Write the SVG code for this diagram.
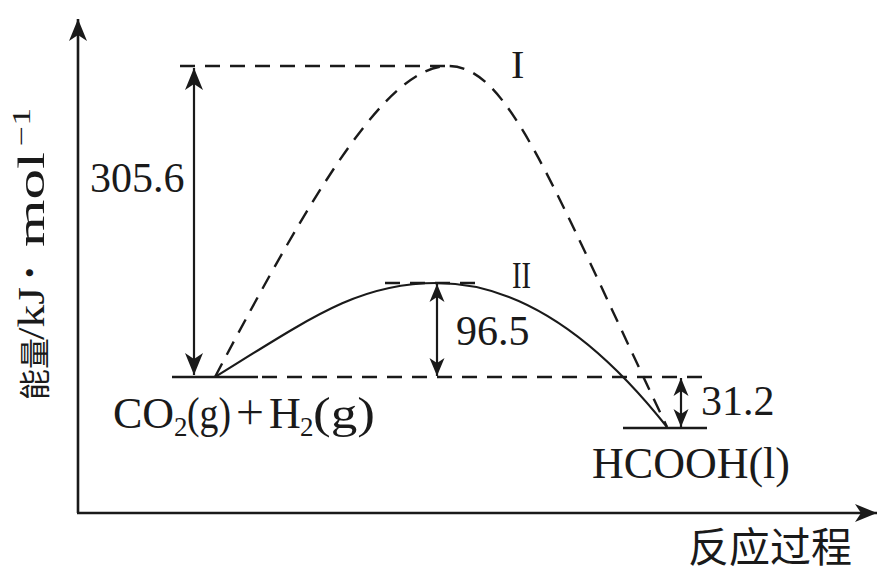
<svg xmlns="http://www.w3.org/2000/svg" width="879" height="574" viewBox="0 0 879 574">
<style>
.ax{stroke:#1a1a1a;stroke-width:2.6;fill:none}
.ln{stroke:#1a1a1a;stroke-width:2.2;fill:none}
.ds{stroke:#1a1a1a;stroke-width:2.4;fill:none;stroke-dasharray:15 10}
.t{font-family:"Liberation Serif","Times New Roman",serif;fill:#1a1a1a}
.c{font-family:"Noto Sans CJK SC","Noto Sans CJK JP",sans-serif;fill:#1a1a1a}
</style>
<defs>
<marker id="ah" markerUnits="userSpaceOnUse" viewBox="-24 -11 26 22" refX="0" refY="0" markerWidth="26" markerHeight="22" orient="auto-start-reverse">
<path d="M0,0 L-22,-9 L-16,0 L-22,9 Z" fill="#1a1a1a"/>
</marker>
<marker id="as" markerUnits="userSpaceOnUse" viewBox="-20 -9 22 18" refX="0" refY="0" markerWidth="22" markerHeight="18" orient="auto-start-reverse">
<path d="M0,0 L-18,-7.5 L-13,0 L-18,7.5 Z" fill="#1a1a1a"/>
</marker>
</defs>
<g id="axes">
<line class="ax" x1="78" y1="513" x2="78" y2="19" marker-end="url(#ah)"/>
<line class="ax" x1="77" y1="513" x2="877" y2="513" marker-end="url(#ah)"/>
<text class="c" transform="translate(46,400) rotate(-90)" font-size="31"><tspan x="0" y="0">能量</tspan></text>
<text class="t" transform="translate(46,400) rotate(-90)" font-size="38"><tspan x="60" y="-2" textLength="53" lengthAdjust="spacingAndGlyphs">/kJ</tspan><tspan x="122" y="-6" font-size="30">•</tspan><tspan x="153" y="-2" textLength="95" lengthAdjust="spacingAndGlyphs">mol</tspan><tspan x="254" y="-16" font-size="26" textLength="38" lengthAdjust="spacingAndGlyphs">−1</tspan></text>
<text class="c" x="688" y="562" font-size="41">反应过程</text>
</g>
<g id="connectors">
<line class="ds" x1="180" y1="66" x2="448" y2="66"/>
<line class="ds" x1="385" y1="283" x2="485" y2="283"/>
<line class="ds" x1="262" y1="377" x2="706" y2="377"/>
<line class="ln" x1="194" y1="68" x2="194" y2="375" marker-start="url(#ah)" marker-end="url(#ah)"/>
<line class="ln" x1="437" y1="284" x2="437" y2="376" marker-start="url(#as)" marker-end="url(#as)"/>
<line class="ln" x1="681" y1="378" x2="681" y2="427" marker-start="url(#as)" marker-end="url(#as)"/>
<path class="ds" d="M215,377 C315,187 388,66 448,66 C508,66 548,176 667,427"/>
<path class="ln" d="M215,377 C315,315 360,283 437,283 Q553,283 667,427"/>
</g>
<g id="reactant">
<line class="ax" x1="172" y1="377" x2="258" y2="377"/>
<text class="t" font-size="44"><tspan x="113" y="428">CO</tspan><tspan x="174" y="436" font-size="27">2</tspan><tspan x="187" y="428" textLength="44" lengthAdjust="spacingAndGlyphs">(g)</tspan><tspan x="234" y="424" font-size="32" style="font-family:'Noto Sans CJK SC','Noto Sans CJK JP',sans-serif">＋</tspan><tspan x="269" y="428">H</tspan><tspan x="300" y="436" font-size="27">2</tspan><tspan x="313" y="428" textLength="62" lengthAdjust="spacingAndGlyphs">(g)</tspan></text>
</g>
<g id="product">
<line class="ax" x1="623" y1="428" x2="707" y2="428"/>
<text class="t" x="592" y="478" font-size="44" textLength="198" lengthAdjust="spacingAndGlyphs">HCOOH(l)</text>
</g>
<g id="labels">
<text class="t" x="90" y="192" font-size="42">305.6</text>
<text class="t" x="456" y="345" font-size="42">96.5</text>
<text class="t" x="701" y="415" font-size="42">31.2</text>
<text class="t" x="511" y="78" font-size="40">I</text>
<text class="t" x="512" y="288" font-size="38" textLength="19" lengthAdjust="spacingAndGlyphs">II</text>
</g>
</svg>
